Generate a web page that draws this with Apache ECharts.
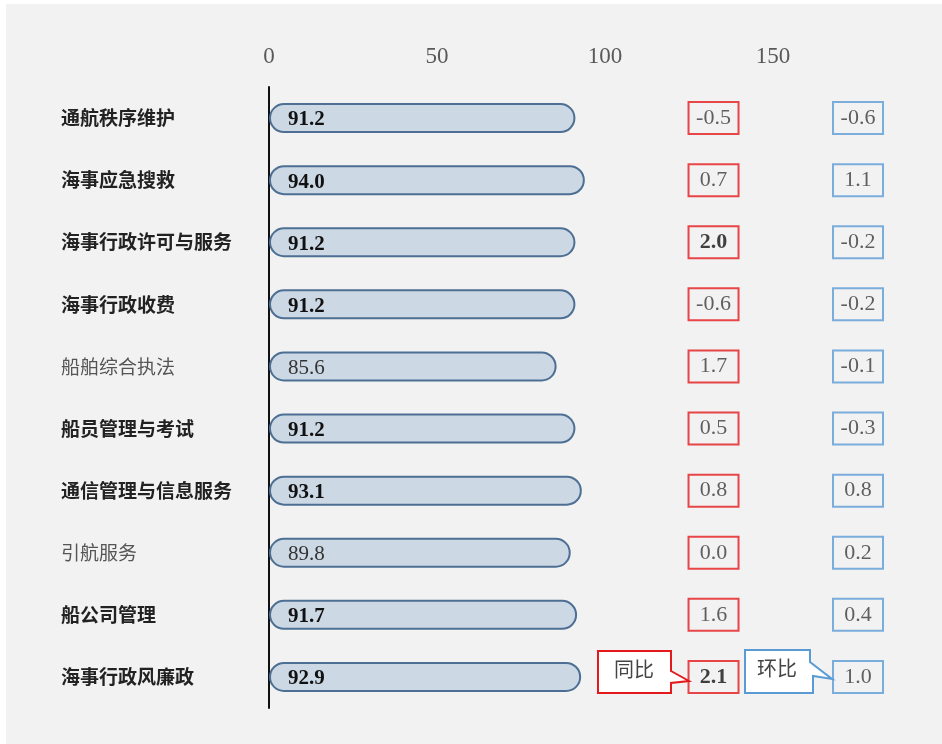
<!DOCTYPE html>
<html>
<head>
<meta charset="utf-8">
<script src="https://cdn.jsdelivr.net/npm/echarts@6/dist/echarts.min.js"></script>
<style>
html,body{margin:0;padding:0;background:#ffffff;}
#bg{position:absolute;left:6px;top:4px;width:936px;height:740px;background:#f2f2f2;}
#c{position:absolute;left:0;top:0;width:942px;height:744px;}
</style>
</head>
<body>
<div id="bg"></div>
<div id="c"></div>
<script>
const categories = ['通航秩序维护','海事应急搜救','海事行政许可与服务','海事行政收费','船舶综合执法','船员管理与考试','通信管理与信息服务','引航服务','船公司管理','海事行政风廉政'];
const scores = [91.2, 94.0, 91.2, 91.2, 85.6, 91.2, 93.1, 89.8, 91.7, 92.9];
const boldRows = [true, true, true, true, false, true, true, false, true, true];
const yoy = [-0.5, 0.7, 2.0, -0.6, 1.7, 0.5, 0.8, 0.0, 1.6, 2.1];
const yoyBold = [false, false, true, false, false, false, false, false, false, true];
const mom = [-0.6, 1.1, -0.2, -0.2, -0.1, -0.3, 0.8, 0.2, 0.4, 1.0];
const xTicks = [0, 50, 100, 150];

const SERIF = '"Liberation Serif","Times New Roman","Noto Sans CJK SC",serif';
const CJK = '"Noto Sans CJK SC","Liberation Serif",sans-serif';
const YOY_X = 132.3, MOM_X = 175.3;

const chart = echarts.init(document.getElementById('c'));

function boxLabel(color, bold) {
  const st = {
    fontFamily: SERIF, fontSize: 22, color: bold ? '#111' : '#3a3a3a',
    fontWeight: bold ? 'bold' : 'normal', height: 28, lineHeight: 28,
    padding: [4, 0, 0, 0], align: 'center'
  };
  return {
    show: true, position: 'inside',
    borderColor: color, borderWidth: 2,
    width: 48, height: 32, align: 'center', verticalAlign: 'middle',
    padding: [0, 1, 0, 1],
    formatter: p => '{t|' + p.data.txt + '}',
    rich: { t: st }
  };
}

const option = {
  animation: false,
  backgroundColor: 'transparent',
  grid: { left: 269, top: 87, width: 672, height: 621, containLabel: false },
  xAxis: {
    type: 'value', position: 'top', min: 0, max: 200, interval: 50,
    axisLine: { show: false }, axisTick: { show: false }, splitLine: { show: false },
    axisLabel: {
      margin: 19, fontFamily: SERIF, fontSize: 23, color: '#595959', showMaxLabel: false,
      formatter: v => xTicks.indexOf(v) >= 0 ? String(v) : ''
    }
  },
  yAxis: {
    type: 'category', inverse: true, data: categories,
    axisLine: { show: true, lineStyle: { color: '#111', width: 2 } },
    axisTick: { show: false },
    axisLabel: {
      align: 'left', margin: 208,
      formatter: (v, i) => (boldRows[i] ? '{b|' : '{n|') + v + '}',
      rich: {
        b: { fontFamily: CJK, fontSize: 19, fontWeight: 'bold', color: '#222' },
        n: { fontFamily: CJK, fontSize: 19, color: '#555' }
      }
    }
  },
  series: [
    {
      type: 'bar', barWidth: 30, z: 1,
      data: scores.map((v, i) => ({
        value: v,
        label: { fontWeight: boldRows[i] ? 'bold' : 'normal', color: boldRows[i] ? '#111' : '#333' }
      })),
      itemStyle: { color: '#ccd9e5', borderColor: '#4d6f93', borderWidth: 2, borderRadius: 15 },
      label: {
        show: true, position: 'insideLeft', distance: 19, offset: [0, 2],
        fontFamily: SERIF, fontSize: 21,
        formatter: p => p.value.toFixed(1)
      }
    },
    {
      type: 'scatter', symbolSize: 1, itemStyle: { color: 'rgba(0,0,0,0)' }, z: 5,
      data: yoy.map((v, i) => ({ value: [YOY_X, categories[i]], txt: v.toFixed(1), label: boxLabel('#e4191c', yoyBold[i]) }))
    },
    {
      type: 'scatter', symbolSize: 1, itemStyle: { color: 'rgba(0,0,0,0)' }, z: 5,
      data: mom.map((v, i) => ({ value: [MOM_X, categories[i]], txt: v.toFixed(1), label: boxLabel('#5b9bd5', false) }))
    }
  ],
  graphic: [
    {
      type: 'polygon', z: 10,
      shape: { points: [[598,651],[671,651],[671,671],[689,681],[671,683],[671,693],[598,693]] },
      style: { fill: '#ffffff', stroke: '#e4191c', lineWidth: 2 }
    },
    {
      type: 'text', z: 11, left: 614, top: 659,
      style: { text: '同比', font: '20px "Noto Sans CJK SC"', fill: '#444' }
    },
    {
      type: 'polygon', z: 10,
      shape: { points: [[745,650],[810,650],[810,662],[832,679],[813,676],[813,693],[745,693]] },
      style: { fill: '#ffffff', stroke: '#5b9bd5', lineWidth: 2 }
    },
    {
      type: 'text', z: 11, left: 757, top: 658,
      style: { text: '环比', font: '20px "Noto Sans CJK SC"', fill: '#444' }
    }
  ]
};
chart.setOption(option);
</script>
</body>
</html>
